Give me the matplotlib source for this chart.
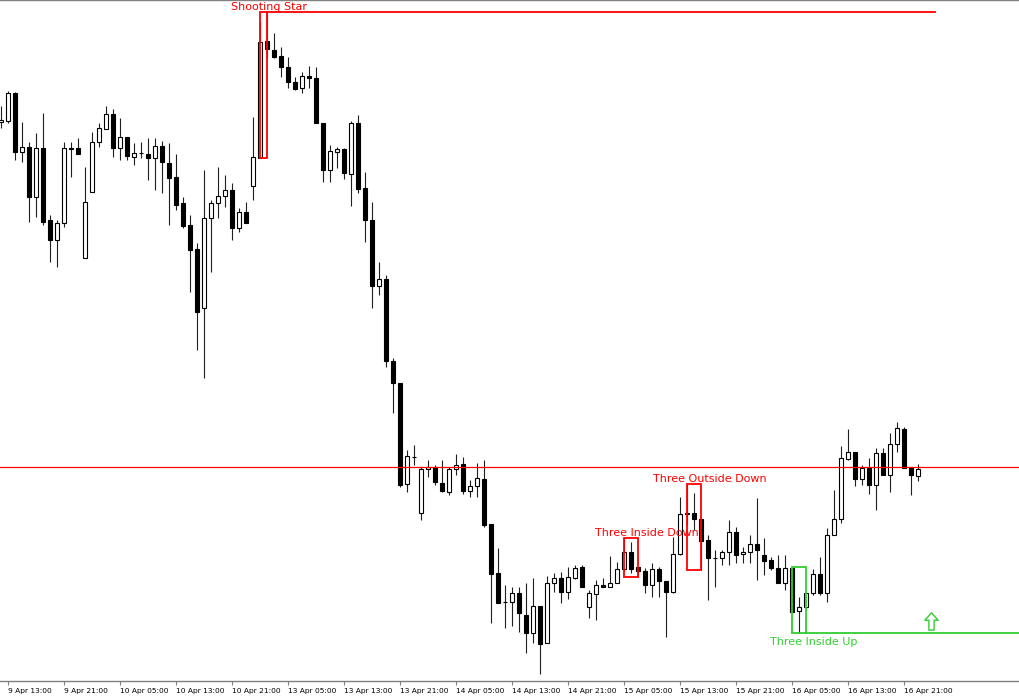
import numpy as np
import matplotlib.pyplot as plt
from matplotlib.patches import Rectangle
from matplotlib.path import Path

# H1 candles, read off the screenshot as pixel rows (0 = top of chart)
# and turned into a price further down
opens = [122, 121, 93, 152, 147, 197, 148, 220, 240, 223, 149, 148, 258, 192, 142, 129,
         114, 148, 137, 157, 153, 154, 158, 146, 163, 177, 203, 225, 249, 308, 218, 203,
         196, 190, 228, 212, 186, 158, 41, 50, 56, 67, 82, 88, 76, 78, 123, 170,
         152, 149, 174, 123, 188, 220, 286, 279, 361, 383, 484, 457, 513, 469, 467, 483,
         492, 469, 464, 491, 486, 479, 524, 573, 602, 602, 593, 615, 633, 606, 643, 583,
         578, 592, 578, 567, 607, 594, 585, 587, 583, 569, 552, 567, 571, 585, 569, 581,
         592, 554, 514, 513, 519, 540, 558, 558, 552, 532, 554, 552, 544, 555, 560, 568,
         583, 568, 611, 607, 593, 574, 593, 535, 519, 459, 452, 479, 468, 485, 453, 475,
         444, 429, 467, 476]
highs = [106, 91, 92, 122, 142, 133, 113, 215, 220, 142, 142, 138, 167, 132, 123, 106,
         109, 118, 137, 143, 142, 138, 138, 141, 143, 154, 197, 215, 243, 170, 200, 167,
         175, 183, 208, 202, 117, 22, 12, 33, 47, 57, 77, 72, 66, 67, 123, 145,
         147, 148, 121, 115, 172, 202, 262, 275, 358, 383, 450, 445, 467, 460, 465, 460,
         467, 454, 457, 480, 463, 460, 524, 548, 585, 587, 587, 583, 578, 606, 576, 573,
         572, 567, 565, 565, 590, 580, 578, 556, 562, 538, 542, 567, 568, 563, 567, 581,
         537, 497, 484, 493, 519, 535, 550, 550, 520, 527, 547, 535, 498, 538, 557, 555,
         555, 567, 597, 593, 569, 557, 528, 490, 446, 429, 452, 465, 458, 448, 448, 433,
         422, 427, 467, 464]
lows = [128, 123, 160, 162, 222, 217, 225, 262, 267, 227, 177, 154, 258, 192, 147, 129,
        157, 160, 160, 165, 158, 180, 190, 193, 225, 210, 228, 292, 350, 378, 272, 218,
        207, 240, 232, 223, 200, 158, 57, 58, 77, 88, 90, 93, 88, 123, 182, 182,
        168, 179, 206, 193, 242, 308, 295, 367, 413, 487, 492, 465, 520, 477, 485, 492,
        495, 475, 494, 497, 497, 527, 623, 603, 628, 626, 632, 653, 643, 674, 643, 592,
        603, 599, 579, 587, 618, 620, 587, 587, 583, 571, 573, 577, 593, 597, 597, 637,
        593, 555, 525, 530, 570, 600, 587, 565, 565, 563, 563, 563, 580, 575, 570, 583,
        590, 612, 633, 610, 595, 595, 602, 535, 523, 460, 486, 485, 494, 510, 475, 492,
        452, 468, 495, 481]
closes = [120, 93, 152, 147, 197, 148, 222, 240, 223, 148, 148, 154, 202, 142, 128, 114,
          148, 137, 156, 153, 153, 158, 146, 162, 178, 205, 226, 250, 312, 218, 203, 196,
          190, 228, 212, 223, 157, 42, 49, 57, 67, 82, 89, 76, 78, 123, 170, 151,
          149, 173, 123, 189, 220, 286, 279, 361, 383, 485, 456, 457, 469, 467, 482, 491,
          469, 465, 491, 486, 478, 525, 574, 603, 602, 593, 613, 633, 606, 644, 583, 578,
          592, 577, 568, 587, 593, 585, 587, 583, 569, 552, 569, 571, 585, 569, 581, 592,
          554, 514, 513, 519, 541, 558, 558, 552, 532, 555, 552, 544, 550, 561, 568, 583,
          568, 612, 607, 593, 574, 593, 535, 519, 458, 452, 479, 468, 485, 453, 475, 444,
          428, 468, 475, 469]

tick_labels = ['9 Apr 13:00', '9 Apr 21:00', '10 Apr 05:00', '10 Apr 13:00', '10 Apr 21:00',
               '13 Apr 05:00', '13 Apr 13:00', '13 Apr 21:00', '14 Apr 05:00', '14 Apr 13:00',
               '14 Apr 21:00', '15 Apr 05:00', '15 Apr 13:00', '15 Apr 21:00', '16 Apr 05:00',
               '16 Apr 13:00', '16 Apr 21:00']

level_px = 467

pattern_names = ['Shooting Star', 'Three Inside Down', 'Three Outside Down', 'Three Inside Up']
pattern_start = [37, 89, 98, 113]
pattern_end = [38, 91, 100, 115]
pattern_bull = [False, False, False, True]
pattern_label_x = [38.3, 92.2, 101.2, 116.1]
pattern_line_end = [133.4, None, None, 160]

arrow_bar = 132.9
arrow_px = 621


def to_price(px):
    return 1.0900 - np.asarray(px, dtype=float) * 0.00005


o = to_price(opens)
h = to_price(highs)
l = to_price(lows)
c = to_price(closes)
bars = np.arange(len(o))

RED = '#ff0000'
GREEN = '#32cd32'

fig = plt.figure(figsize=(10.2, 7.0), dpi=100)
ax = fig.add_axes([0, 19 / 700, 1, 681 / 700])

# wicks
ax.vlines(bars, l, h, color='#202020', lw=0.8, zorder=2)

# bodies
w = 0.56
for i in bars:
    bull = c[i] >= o[i]
    lo = min(o[i], c[i])
    ax.add_patch(Rectangle((i - w / 2, lo), w, abs(c[i] - o[i]),
                           facecolor='white' if bull else 'black',
                           edgecolor='black', lw=0.8, zorder=3))

ax.axhline(to_price(level_px), color=RED, lw=0.9, zorder=4)

# pattern boxes and labels
for name, s, e, bull, lx, le in zip(pattern_names, pattern_start, pattern_end,
                                    pattern_bull, pattern_label_x, pattern_line_end):
    col = GREEN if bull else RED
    top = h[s:e + 1].max()
    bot = l[s:e + 1].min()
    ax.add_patch(Rectangle((s, bot), e - s, top - bot, fill=False,
                           edgecolor=col, lw=1.3, zorder=5))
    if le is not None:
        yline = bot if bull else top
        ax.plot([e, le], [yline, yline], color=col, lw=1.3, zorder=5)
    if bull:
        ax.annotate(name, (lx, bot), xytext=(0, -3), textcoords='offset points',
                    ha='center', va='top', color=col, fontsize=8, zorder=6)
    else:
        ax.annotate(name, (lx, top), xytext=(0, 1.5), textcoords='offset points',
                    ha='center', va='baseline', color=col, fontsize=8, zorder=6,
                    annotation_clip=False)

# hollow up arrow
arrow = Path([(0, 1), (0.76, 0.15), (0.3, 0.15), (0.3, -1), (-0.3, -1),
              (-0.3, 0.15), (-0.76, 0.15), (0, 1)],
             [Path.MOVETO] + [Path.LINETO] * 6 + [Path.CLOSEPOLY])
ax.plot([arrow_bar], [to_price(arrow_px)], marker=arrow, ms=12.5, mfc='none',
        mec=GREEN, mew=1.0, zorder=6)

ax.set_xlim(-1 / 7, 1019 / 7)
ax.set_ylim(to_price(681), to_price(0))

ax.set_xticks(np.arange(1, 1 + 8 * len(tick_labels), 8))
ax.set_xticklabels(tick_labels, ha='left', fontsize=5.4)
ax.tick_params(axis='x', direction='out', length=3, width=0.8, color='#808080', pad=2)
ax.set_yticks([])
for side in ['left', 'right']:
    ax.spines[side].set_visible(False)
for side in ['top', 'bottom']:
    ax.spines[side].set_color('#808080')
    ax.spines[side].set_linewidth(1.0)

fig.savefig('out.png', dpi=100)
